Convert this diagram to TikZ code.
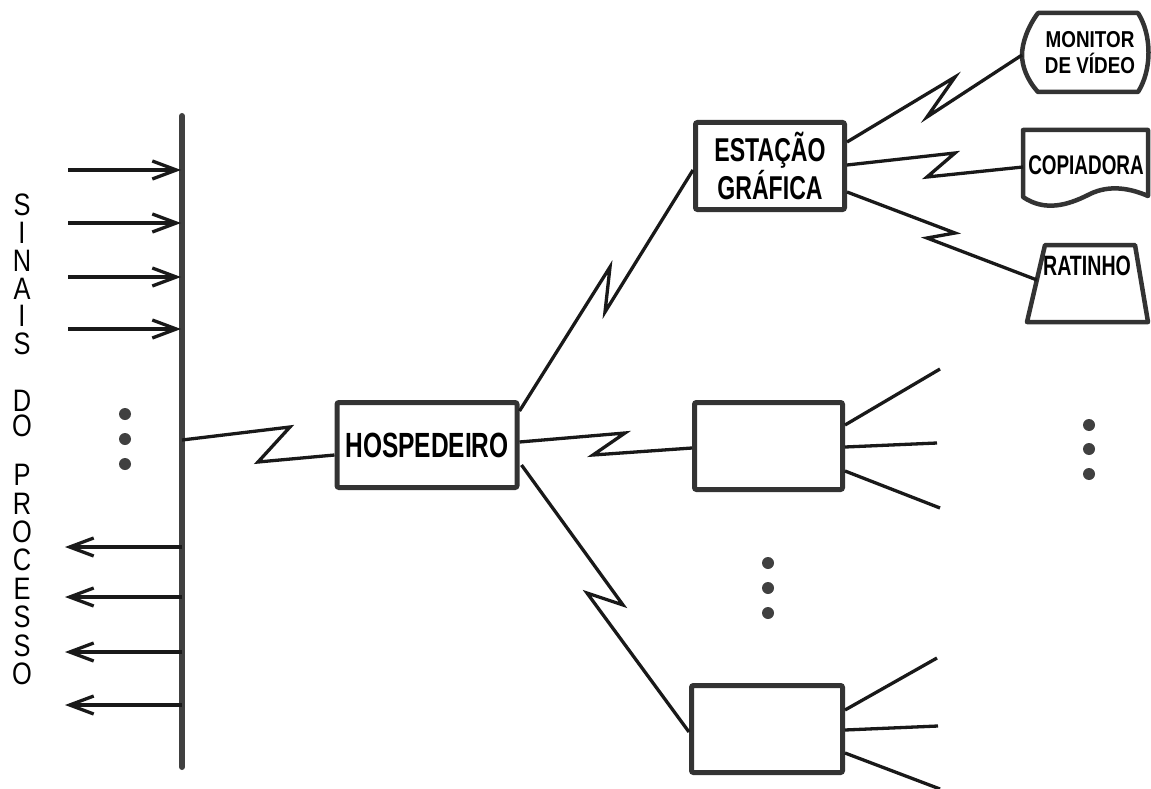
\documentclass[tikz,border=0pt]{standalone}
\usepackage{fontspec}
\setmainfont{Liberation Sans}[FakeStretch=0.70, UprightFont=*, BoldFont=* Bold]
\newfontfamily\condB{Liberation Sans}[FakeStretch=0.82]
\usetikzlibrary{arrows.meta,calc}

\begin{document}
\begin{tikzpicture}[x=1pt,y=-1pt,
  conn/.style={line width=3.3pt, draw=black!90, line join=miter, miter limit=20},
  fan/.style={line width=3.3pt, draw=black!90},
  boxn/.style={draw=black!80, line width=5pt, rounded corners=2pt, inner sep=0pt, fill=white},
  shp/.style={draw=black!80, line width=4.5pt, line join=round, fill=white},
  dot/.style={circle, fill=black!75, inner sep=0pt, minimum size=12pt},
  sig/.style={line width=3.3pt, draw=black!90},
  arr/.style={sig, -{Straight Barb[length=24pt,width=18pt]}},
  lbl/.style={inner sep=0pt, align=center, text=black},
  vlet/.style={lbl, inner sep=0pt}
]
\useasboundingbox (0,0) rectangle (1151,789);

% ---------- bus ----------
\coordinate (busT) at (182,116);
\coordinate (busB) at (182,767);
\draw[line width=6pt, draw=black!75, line cap=round] (busT) -- (busB);

% input arrows
\foreach \i/\y in {1/170,2/223,3/277,4/329}{
  \coordinate (in\i) at (68,\y);
  \coordinate (bi\i) at (181,\y);
  \draw[arr] (in\i) -- (bi\i);
}
% output arrows
\foreach \i/\y in {1/547,2/597,3/652,4/705}{
  \coordinate (bo\i) at (182,\y);
  \coordinate (out\i) at (65,\y);
  \draw[arr] (bo\i) -- (out\i);
}

% left dots
\node[dot] (ld1) at (125,414) {};
\node[dot] (ld2) at (125,439) {};
\node[dot] (ld3) at (125,464) {};

% vertical label
\node[vlet, font=\condB\fontsize{31}{27.8}\selectfont] (sinais) at (22,274.5) {S\\I\\N\\A\\I\\S};
\node[vlet, font=\condB\fontsize{31}{25}\selectfont] (do) at (22,413) {D\\O};
\node[vlet, font=\condB\fontsize{31}{28.4}\selectfont] (processo) at (22,574.5) {P\\R\\O\\C\\E\\S\\S\\O};

% ---------- boxes ----------
\node[boxn, minimum width=180pt, minimum height=85pt, font=\bfseries\fontsize{35}{35}\selectfont] (hosp) at (427,445) {HOSPEDEIRO};
\node[boxn, minimum width=149pt, minimum height=87pt, align=center, font=\bfseries\fontsize{33}{35}\selectfont] (est) at (770,166) {ESTAÇÃO\\GRÁFICA};
\node[boxn, minimum width=148pt, minimum height=87pt] (b2) at (768.5,446) {};
\node[boxn, minimum width=151pt, minimum height=87pt] (b3) at (767,729) {};

% middle and right dots
\node[dot] (md1) at (768,563) {};
\node[dot] (md2) at (768,588) {};
\node[dot] (md3) at (768,613) {};
\node[dot] (rd1) at (1089,425) {};
\node[dot] (rd2) at (1089,449) {};
\node[dot] (rd3) at (1089,474) {};

% ---------- peripheral shapes ----------
% monitor (display symbol)
\draw[shp] (1038,13) -- (1138,13)
  .. controls (1152,35) and (1152,70) .. (1138,92)
  -- (1038,92)
  .. controls (1027,80) and (1022,66) .. (1022,55)
  .. controls (1022,44) and (1027,28) .. (1038,13) -- cycle;
\node[lbl, font=\condB\bfseries\fontsize{23}{26}\selectfont] (monitor) at (1090,52.5) {MONITOR\\DE VÍDEO};
\coordinate (monL) at (1022,55);

% copiadora (document symbol)
\draw[shp] (1023,130) -- (1148,130) -- (1148,196)
  .. controls (1125,186) and (1105,186) .. (1088,195)
  .. controls (1068,205) and (1045,212) .. (1023,197) -- cycle;
\node[lbl, font=\bfseries\fontsize{27}{27}\selectfont] (copiadora) at (1086,165) {COPIADORA};
\coordinate (copL) at (1023,167);

% ratinho (trapezium)
\draw[shp] (1045,245) -- (1135,245) -- (1148,322) -- (1027,322) -- cycle;
\node[lbl, font=\bfseries\fontsize{28}{28}\selectfont] (ratinho) at (1087,266) {RATINHO};
\coordinate (ratL) at (1037,280);

% ---------- connectors ----------
\coordinate (busH) at (182,440);
\draw[conn] (busH) -- (290,427) -- (258,462) -- ($(hosp.west)+(0,10)$);

\draw[conn] ($(hosp.north east)+(0,11)$) -- (610,267) -- (605,312) -- ($(est.west)+(0,4)$);
\draw[conn] ($(hosp.east)+(0,-3)$) -- (625,433) -- (593,455) -- ($(b2.west)+(0,2)$);
\draw[conn] ($(hosp.east)+(2,20)$) -- (623,605) -- (587,593) -- ($(b3.west)+(0,3)$);

\draw[conn] ($(est.east)+(0,-24)$) -- (955,77) -- (927,117) -- (monL);
\draw[conn] ($(est.east)+(0,-1)$) -- (955,153) -- (927,177) -- (copL);
\draw[conn] ($(est.east)+(0,26)$) -- (955,233) -- (927,238) -- (ratL);

% fans from the blank stations
\coordinate (f21) at (940,369);
\coordinate (f22) at (937,443);
\coordinate (f23) at (940,508);
\draw[fan] ($(b2.east)+(0,-21)$) -- (f21);
\draw[fan] ($(b2.east)+(0,1)$) -- (f22);
\draw[fan] ($(b2.east)+(0,25)$) -- (f23);
\coordinate (f31) at (937,658);
\coordinate (f32) at (938,726);
\coordinate (f33) at (940,789);
\draw[fan] ($(b3.east)+(0,-19)$) -- (f31);
\draw[fan] ($(b3.east)+(0,1)$) -- (f32);
\draw[fan] ($(b3.east)+(0,24)$) -- (f33);

\end{tikzpicture}
\end{document}
